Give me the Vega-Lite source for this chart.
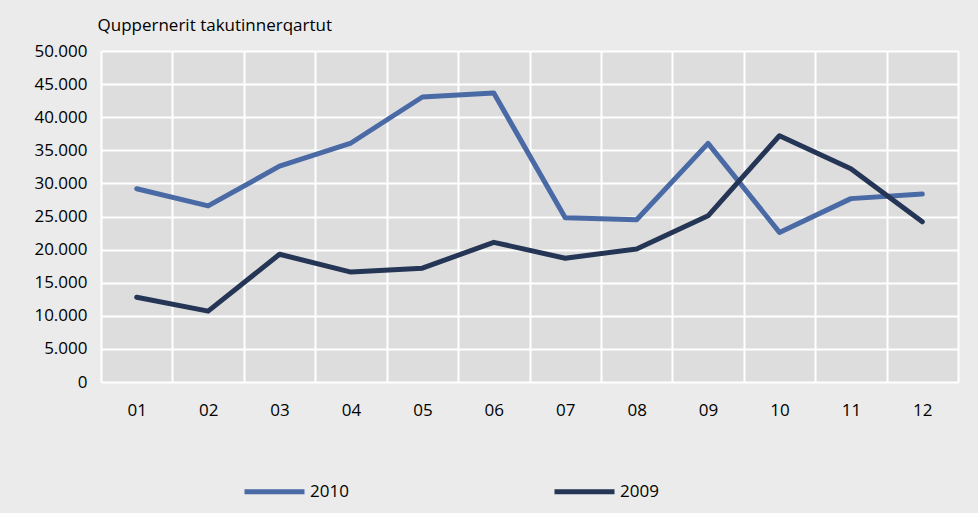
{
  "$schema": "https://vega.github.io/schema/vega-lite/v6.json",
  "width": 857,
  "height": 331,
  "autosize": "none",
  "padding": {"left": 101, "top": 51, "right": 20, "bottom": 131},
  "background": "#ebebeb",
  "config": {
    "view": {"fill": "#dddddd", "stroke": null},
    "font": "Open Sans"
  },
  "data": {
    "values": [
      {"month": "01", "year": "2010", "value": 29200},
      {"month": "02", "year": "2010", "value": 26600},
      {"month": "03", "year": "2010", "value": 32600},
      {"month": "04", "year": "2010", "value": 36100},
      {"month": "05", "year": "2010", "value": 43050},
      {"month": "06", "year": "2010", "value": 43650},
      {"month": "07", "year": "2010", "value": 24800},
      {"month": "08", "year": "2010", "value": 24500},
      {"month": "09", "year": "2010", "value": 36050},
      {"month": "10", "year": "2010", "value": 22600},
      {"month": "11", "year": "2010", "value": 27700},
      {"month": "12", "year": "2010", "value": 28400},
      {"month": "01", "year": "2009", "value": 12800},
      {"month": "02", "year": "2009", "value": 10700},
      {"month": "03", "year": "2009", "value": 19300},
      {"month": "04", "year": "2009", "value": 16600},
      {"month": "05", "year": "2009", "value": 17200},
      {"month": "06", "year": "2009", "value": 21100},
      {"month": "07", "year": "2009", "value": 18700},
      {"month": "08", "year": "2009", "value": 20100},
      {"month": "09", "year": "2009", "value": 25100},
      {"month": "10", "year": "2009", "value": 37200},
      {"month": "11", "year": "2009", "value": 32200},
      {"month": "12", "year": "2009", "value": 24200}
    ]
  },
  "mark": {"type": "line", "strokeWidth": 5, "strokeJoin": "round", "strokeCap": "round"},
  "encoding": {
    "x": {
      "field": "month",
      "type": "ordinal",
      "scale": {"type": "band", "paddingInner": 0, "paddingOuter": 0},
      "axis": {
        "title": null,
        "labelAngle": 0,
        "labelFontSize": 17,
        "labelColor": "#000000",
        "labelPadding": 20,
        "ticks": false,
        "domain": false,
        "grid": true,
        "gridColor": "#ffffff",
        "gridWidth": 2,
        "gridOpacity": 1,
        "tickBand": "extent"
      }
    },
    "y": {
      "field": "value",
      "type": "quantitative",
      "scale": {"domain": [0, 50000], "nice": false},
      "axis": {
        "values": [0, 5000, 10000, 15000, 20000, 25000, 30000, 35000, 40000, 45000, 50000],
        "labelExpr": "replace(format(datum.value, ','), ',', '.')",
        "labelFontSize": 17,
        "labelColor": "#000000",
        "labelPadding": 14,
        "ticks": false,
        "domain": false,
        "grid": true,
        "gridColor": "#ffffff",
        "gridWidth": 2,
        "gridOpacity": 1,
        "title": "Quppernerit takutinnerqartut",
        "titleAngle": 0,
        "titleAlign": "left",
        "titleBaseline": "middle",
        "titleX": -4,
        "titleY": -26,
        "titleFontSize": 17,
        "titleFontWeight": "normal",
        "titleColor": "#000000"
      }
    },
    "color": {
      "field": "year",
      "type": "nominal",
      "scale": {"domain": ["2010", "2009"], "range": ["#4a6aa5", "#253555"]},
      "legend": {
        "title": null,
        "orient": "none",
        "direction": "horizontal",
        "legendX": 141,
        "legendY": 408,
        "symbolType": "stroke",
        "symbolSize": 3600,
        "symbolStrokeWidth": 5,
        "labelFontSize": 17,
        "labelColor": "#000000",
        "labelOffset": 3,
        "columnPadding": 195
      }
    }
  }
}
